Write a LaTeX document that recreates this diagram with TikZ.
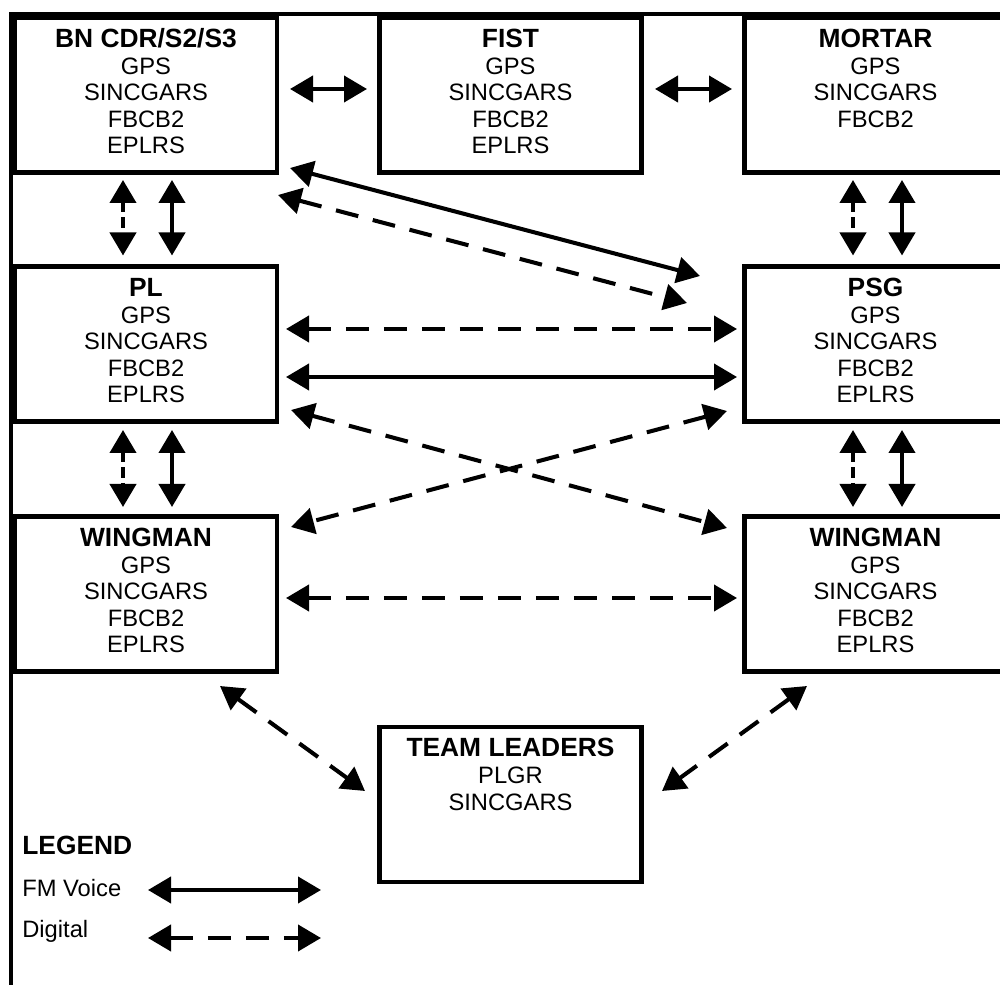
\documentclass[tikz,border=0pt]{standalone}
\usepackage{fontspec}
\setmainfont{Liberation Sans}
\usetikzlibrary{arrows.meta}

\newcommand{\unitname}[1]{{\fontsize{15}{15.1}\selectfont\bfseries #1}}
\newcommand{\unitlist}[1]{\begin{tabular}[t]{@{}c@{}}#1\end{tabular}}

\tikzset{
    unit/.style={draw, line width=2.3pt, outer sep=0pt, inner sep=0pt, anchor=north west,
        minimum width=5.24cm, text height=0.60cm, text depth=2.50cm,
        font=\fontsize{13.5}{15.1}\selectfont},
    voice/.style={line width=2.3pt, {Triangle[length=0.46cm, width=0.52cm]}-{Triangle[length=0.46cm, width=0.52cm]}},
    digital/.style={voice, dash pattern=on 0.46cm off 0.3cm},
    shortdigital/.style={voice, dash pattern=on 0.21cm off 0.1cm},
}

\begin{document}
\begin{tikzpicture}

    \useasboundingbox (0,0) rectangle (20,-19.7);

    % Frame along the top and the left side
    \draw[line width=2.3pt] (0.22,-19.7) -- (0.22,-0.28) -- (20,-0.28);

    % Top row of units
    \node[unit] (bn) at (0.30,-0.35) {\unitlist{\unitname{BN CDR/S2/S3}\\GPS\\SINCGARS\\FBCB2\\EPLRS}};
    \node[unit] (fist) at (7.59,-0.35) {\unitlist{\unitname{FIST}\\GPS\\SINCGARS\\FBCB2\\EPLRS}};
    \node[unit] (mortar) at (14.89,-0.35) {\unitlist{\unitname{MORTAR}\\GPS\\SINCGARS\\FBCB2}};

    % Middle rows
    \node[unit] (pl) at (0.30,-5.33) {\unitlist{\unitname{PL}\\GPS\\SINCGARS\\FBCB2\\EPLRS}};
    \node[unit] (psg) at (14.89,-5.33) {\unitlist{\unitname{PSG}\\GPS\\SINCGARS\\FBCB2\\EPLRS}};
    \node[unit] (wingl) at (0.30,-10.33) {\unitlist{\unitname{WINGMAN}\\GPS\\SINCGARS\\FBCB2\\EPLRS}};
    \node[unit] (wingr) at (14.89,-10.33) {\unitlist{\unitname{WINGMAN}\\GPS\\SINCGARS\\FBCB2\\EPLRS}};

    % Team leaders at the bottom
    \node[unit] (team) at (7.59,-14.54) {\unitlist{\unitname{TEAM LEADERS}\\PLGR\\SINCGARS}};

    % FM voice links along the top row
    \draw[voice] ([shift={(0.26,0.12)}]bn.east) -- ([shift={(-0.25,0.12)}]fist.west);
    \draw[voice] ([shift={(0.27,0.12)}]fist.east) -- ([shift={(-0.25,0.12)}]mortar.west);

    % Vertical links, digital and FM voice
    \draw[shortdigital] ([shift={(2.16,-0.15)}]bn.south west) -- ([shift={(2.16,0.22)}]pl.north west);
    \draw[voice] ([shift={(3.14,-0.15)}]bn.south west) -- ([shift={(3.14,0.22)}]pl.north west);
    \draw[shortdigital] ([shift={(2.17,-0.15)}]mortar.south west) -- ([shift={(2.17,0.22)}]psg.north west);
    \draw[voice] ([shift={(3.15,-0.15)}]mortar.south west) -- ([shift={(3.15,0.22)}]psg.north west);
    \draw[shortdigital] ([shift={(2.16,-0.17)}]pl.south west) -- ([shift={(2.16,0.19)}]wingl.north west);
    \draw[voice] ([shift={(3.14,-0.17)}]pl.south west) -- ([shift={(3.14,0.19)}]wingl.north west);
    \draw[shortdigital] ([shift={(2.17,-0.17)}]psg.south west) -- ([shift={(2.17,0.19)}]wingr.north west);
    \draw[voice] ([shift={(3.15,-0.17)}]psg.south west) -- ([shift={(3.15,0.19)}]wingr.north west);

    % BN CDR to PSG
    \draw[voice] ([shift={(0.26,0.09)}]bn.south east) -- ([shift={(-0.89,-0.19)}]psg.north west);
    \draw[digital] ([shift={(0.02,-0.45)}]bn.south east) -- ([shift={(-1.15,-0.73)}]psg.north west);

    % PL to PSG
    \draw[digital] ([shift={(0.18,0.30)}]pl.east) -- ([shift={(-0.15,0.30)}]psg.west);
    \draw[voice] ([shift={(0.18,-0.66)}]pl.east) -- ([shift={(-0.15,-0.66)}]psg.west);

    % Crossed digital links
    \draw[digital] ([shift={(0.28,0.23)}]pl.south east) -- ([shift={(-0.35,-0.23)}]wingr.north west);
    \draw[digital] ([shift={(-0.35,0.21)}]psg.south west) -- ([shift={(0.28,-0.21)}]wingl.north east);

    % Wingman to wingman
    \draw[digital] ([shift={(0.18,-0.08)}]wingl.east) -- ([shift={(-0.15,-0.08)}]wingr.west);

    % Wingmen to team leaders
    \draw[digital] ([shift={(-1.14,-0.29)}]wingl.south east) -- ([shift={(-0.29,0.27)}]team.west);
    \draw[digital] ([shift={(1.25,-0.29)}]wingr.south west) -- ([shift={(0.41,0.27)}]team.east);

    % Legend
    \node[anchor=base west, inner sep=0pt] (legend) at (0.44,-17.08) {\unitname{LEGEND}};
    \node[anchor=base west, inner sep=0pt, font=\fontsize{13.5}{15.1}\selectfont] (fmvoice) at (0.44,-17.93) {FM Voice};
    \node[anchor=base west, inner sep=0pt, font=\fontsize{13.5}{15.1}\selectfont] (digitalkey) at (0.44,-18.74) {Digital};
    \draw[voice] ([shift={(2.52,0.13)}]fmvoice.base west) -- ++(3.46,0);
    \draw[digital] ([shift={(2.52,-0.02)}]digitalkey.base west) -- ++(3.46,0);

\end{tikzpicture}
\end{document}
